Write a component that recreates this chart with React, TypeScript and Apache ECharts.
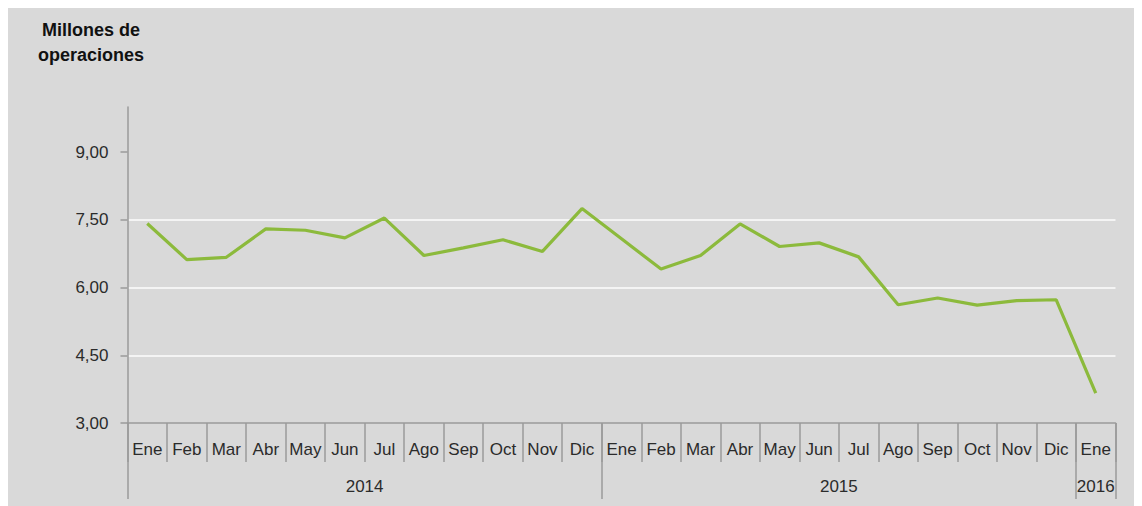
import React, { useEffect, useRef } from "react";
import * as echarts from "echarts";

const months = [
  "Ene", "Feb", "Mar", "Abr", "May", "Jun", "Jul", "Ago", "Sep", "Oct", "Nov", "Dic",
  "Ene", "Feb", "Mar", "Abr", "May", "Jun", "Jul", "Ago", "Sep", "Oct", "Nov", "Dic",
  "Ene",
];
const operaciones = [
  7.42, 6.62, 6.67, 7.3, 7.27, 7.1, 7.54, 6.71, 6.88, 7.06, 6.8, 7.75,
  7.08, 6.41, 6.71, 7.41, 6.91, 6.99, 6.68, 5.62, 5.77, 5.61, 5.71, 5.73,
  3.66,
];
const years = ["2014", "2015", "2016"];
const monthsPerYear = [12, 12, 1];
const yTicks = [3, 4.5, 6, 7.5, 9];

export default function App() {
  const ref = useRef<HTMLDivElement>(null);
  useEffect(() => {
    if (!ref.current) return;
    const chart = echarts.init(ref.current, null, { renderer: "svg" });
    const yearBounds: number[] = [0];
    const yearCenters: number[] = [];
    monthsPerYear.forEach((n) => {
      const start = yearBounds[yearBounds.length - 1];
      yearCenters.push(start + n / 2);
      yearBounds.push(start + n);
    });
    const font = "'Liberation Sans', Arial, sans-serif";
    const axisGray = "#9a9a9a";
    chart.setOption({
      animation: false,
      backgroundColor: "#d9d9d9",
      textStyle: { fontFamily: font },
      graphic: [
        {
          type: "text",
          x: 83,
          y: 9,
          style: {
            text: "Millones de\noperaciones",
            font: `bold 18px ${font}`,
            fill: "#111",
            textAlign: "center",
            textVerticalAlign: "top",
            lineHeight: 25,
          },
        },
      ],
      grid: { left: 119.5, right: 26.5, top: 99, bottom: 83 },
      xAxis: [
        {
          type: "category",
          data: months,
          boundaryGap: true,
          axisLine: { show: true, lineStyle: { color: axisGray, width: 1.5 } },
          axisTick: { show: true, interval: 0, length: 39, lineStyle: { color: axisGray, width: 1.5 } },
          axisLabel: { interval: 0, fontSize: 17, color: "#2b2b2b", margin: 18, fontFamily: font },
          splitLine: { show: false },
        },
        {
          type: "value",
          min: 0,
          max: months.length,
          position: "bottom",
          axisLine: { show: false },
          splitLine: { show: false },
          axisTick: {
            show: true,
            customValues: yearBounds,
            length: 76,
            lineStyle: { color: axisGray, width: 1.5 },
          },
          axisLabel: {
            show: true,
            customValues: yearCenters,
            fontSize: 17,
            color: "#2b2b2b",
            margin: 55,
            fontFamily: font,
            formatter: (v: number) => {
              const i = yearCenters.findIndex((c) => Math.abs(c - v) < 1e-6);
              return i >= 0 ? years[i] : "";
            },
          },
        },
      ],
      yAxis: {
        type: "value",
        min: 3,
        max: 10,
        interval: 1.5,
        axisLine: { show: true, lineStyle: { color: axisGray, width: 1.5 } },
        axisTick: { show: true, length: 7, customValues: yTicks, lineStyle: { color: axisGray, width: 1.5 } },
        axisLabel: {
          customValues: yTicks,
          fontSize: 17,
          color: "#2b2b2b",
          margin: 19,
          fontFamily: font,
          formatter: (v: number) => v.toFixed(2).replace(".", ","),
        },
        splitLine: {
          show: true,
          showMinLine: false,
          showMaxLine: false,
          lineStyle: { color: "#f4f4f4", width: 2 },
        },
      },
      series: [
        {
          type: "line",
          data: operaciones,
          xAxisIndex: 0,
          symbol: "none",
          lineStyle: { color: "#8cba3c", width: 3.2 },
        },
      ],
    });
    return () => chart.dispose();
  }, []);
  return <div ref={ref} style={{ width: 1134, height: 498 }} />;
}
